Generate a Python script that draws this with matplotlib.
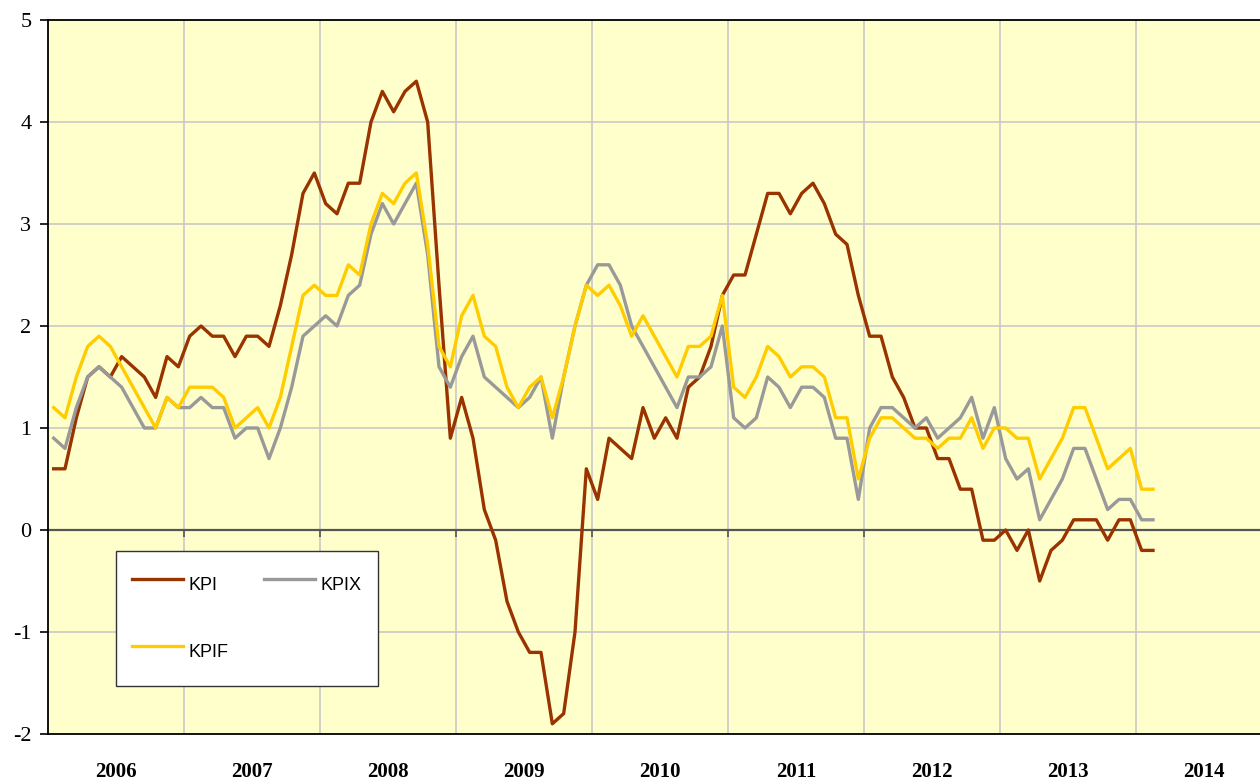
import numpy as np
import matplotlib
matplotlib.use("Agg")
import matplotlib.pyplot as plt
from matplotlib.markers import TICKDOWN

plt.rcParams["axes.unicode_minus"] = False

# monthly values, Jan 2006 - Feb 2014
kpi = [
    0.6, 0.6, 1.1, 1.5, 1.6, 1.5, 1.7, 1.6, 1.5, 1.3, 1.7, 1.6,  # 2006
    1.9, 2.0, 1.9, 1.9, 1.7, 1.9, 1.9, 1.8, 2.2, 2.7, 3.3, 3.5,  # 2007
    3.2, 3.1, 3.4, 3.4, 4.0, 4.3, 4.1, 4.3, 4.4, 4.0, 2.4, 0.9,  # 2008
    1.3, 0.9, 0.2, -0.1, -0.7, -1.0, -1.2, -1.2, -1.9, -1.8, -1.0, 0.6,  # 2009
    0.3, 0.9, 0.8, 0.7, 1.2, 0.9, 1.1, 0.9, 1.4, 1.5, 1.8, 2.3,  # 2010
    2.5, 2.5, 2.9, 3.3, 3.3, 3.1, 3.3, 3.4, 3.2, 2.9, 2.8, 2.3,  # 2011
    1.9, 1.9, 1.5, 1.3, 1.0, 1.0, 0.7, 0.7, 0.4, 0.4, -0.1, -0.1,  # 2012
    0.0, -0.2, 0.0, -0.5, -0.2, -0.1, 0.1, 0.1, 0.1, -0.1, 0.1, 0.1,  # 2013
    -0.2, -0.2,  # 2014
]
kpix = [
    0.9, 0.8, 1.2, 1.5, 1.6, 1.5, 1.4, 1.2, 1.0, 1.0, 1.3, 1.2,
    1.2, 1.3, 1.2, 1.2, 0.9, 1.0, 1.0, 0.7, 1.0, 1.4, 1.9, 2.0,
    2.1, 2.0, 2.3, 2.4, 2.9, 3.2, 3.0, 3.2, 3.4, 2.7, 1.6, 1.4,
    1.7, 1.9, 1.5, 1.4, 1.3, 1.2, 1.3, 1.5, 0.9, 1.5, 2.0, 2.4,
    2.6, 2.6, 2.4, 2.0, 1.8, 1.6, 1.4, 1.2, 1.5, 1.5, 1.6, 2.0,
    1.1, 1.0, 1.1, 1.5, 1.4, 1.2, 1.4, 1.4, 1.3, 0.9, 0.9, 0.3,
    1.0, 1.2, 1.2, 1.1, 1.0, 1.1, 0.9, 1.0, 1.1, 1.3, 0.9, 1.2,
    0.7, 0.5, 0.6, 0.1, 0.3, 0.5, 0.8, 0.8, 0.5, 0.2, 0.3, 0.3,
    0.1, 0.1,
]
kpif = [
    1.2, 1.1, 1.5, 1.8, 1.9, 1.8, 1.6, 1.4, 1.2, 1.0, 1.3, 1.2,
    1.4, 1.4, 1.4, 1.3, 1.0, 1.1, 1.2, 1.0, 1.3, 1.8, 2.3, 2.4,
    2.3, 2.3, 2.6, 2.5, 3.0, 3.3, 3.2, 3.4, 3.5, 2.8, 1.8, 1.6,
    2.1, 2.3, 1.9, 1.8, 1.4, 1.2, 1.4, 1.5, 1.1, 1.5, 2.0, 2.4,
    2.3, 2.4, 2.2, 1.9, 2.1, 1.9, 1.7, 1.5, 1.8, 1.8, 1.9, 2.3,
    1.4, 1.3, 1.5, 1.8, 1.7, 1.5, 1.6, 1.6, 1.5, 1.1, 1.1, 0.5,
    0.9, 1.1, 1.1, 1.0, 0.9, 0.9, 0.8, 0.9, 0.9, 1.1, 0.8, 1.0,
    1.0, 0.9, 0.9, 0.5, 0.7, 0.9, 1.2, 1.2, 0.9, 0.6, 0.7, 0.8,
    0.4, 0.4,
]
years = [2006, 2007, 2008, 2009, 2010, 2011, 2012, 2013, 2014]

x = np.arange(len(kpi)) + 0.5
bounds = np.arange(1, len(years) + 1) * 12
centers = np.arange(len(years)) * 12 + 6

fig = plt.figure(figsize=(12.6, 7.82), dpi=100)
ax = fig.add_axes([48 / 1260, 48 / 782, 1224 / 1260, 714 / 782])
ax.set_facecolor("#FFFFCC")

ax.set_xlim(0, 108)
ax.set_ylim(-2, 5)

# grid
for b in bounds:
    ax.axvline(b, color="#C8C8C8", lw=1.2, zorder=1)
for v in range(-1, 5):
    if v != 0:
        ax.axhline(v, color="#C8C8C8", lw=1.2, zorder=1)
ax.axhline(0, color="#555555", lw=1.6, zorder=2)
ax.plot(bounds, np.zeros(len(bounds)), ls="none", marker=TICKDOWN,
        markersize=5, markeredgewidth=1.2, color="#555555", zorder=2)

l1, = ax.plot(x, kpi, color="#993300", lw=2.4, label="KPI", zorder=3)
l2, = ax.plot(x, kpix, color="#999999", lw=2.4, label="KPIX", zorder=4)
l3, = ax.plot(x, kpif, color="#FFCC00", lw=2.4, label="KPIF", zorder=5)

for s in ["left", "bottom", "top"]:
    ax.spines[s].set_color("black")
    ax.spines[s].set_linewidth(1.3)
ax.spines["right"].set_visible(False)

ax.set_yticks(range(-2, 6))
ax.tick_params(axis="y", direction="out", length=6, width=1.2, pad=6,
               labelsize=16, labelfontfamily="Liberation Serif")

ax.set_xticks(bounds)
ax.set_xticklabels([])
ax.set_xticks(centers, minor=True)
ax.set_xticklabels([str(y) for y in years], minor=True,
                   fontsize=15, fontweight="bold", family="Liberation Serif")
ax.tick_params(axis="x", which="both", length=0, pad=20)

leg = ax.legend([l1, l3, l2], ["KPI", "KPIF", "KPIX"], ncol=2,
                loc="upper left", bbox_to_anchor=(68 / 1224, 183 / 714),
                borderaxespad=0, frameon=True, fancybox=False,
                prop={"family": "Liberation Sans", "size": 13},
                handlelength=2.8, handleheight=2.6, handletextpad=0.3,
                columnspacing=2.0, labelspacing=1.78, borderpad=0.9)
leg.get_frame().set_edgecolor("#333333")
leg.get_frame().set_linewidth(1.0)
leg.get_frame().set_facecolor("white")
leg.get_frame().set_alpha(1)
leg.set_zorder(10)

fig.savefig("out.png", dpi=100)
